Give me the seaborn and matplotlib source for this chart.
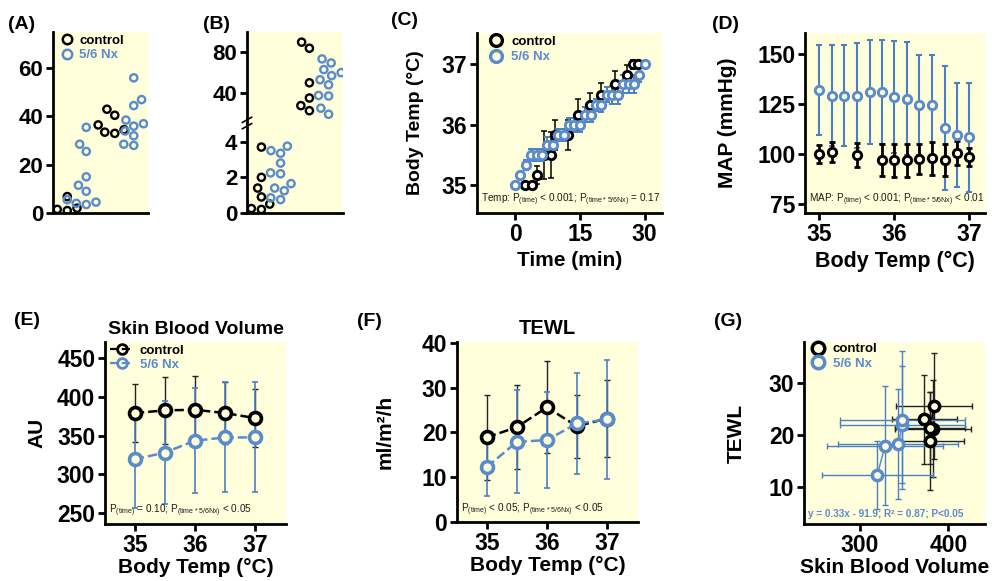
import numpy as np
import pandas as pd
import matplotlib.pyplot as plt
import seaborn as sns
from matplotlib.lines import Line2D

BLACK = "black"
BLUE = "#5A8BCB"
BAR_BLUE = "#4A80C2"
PANEL_BG = "#FFFFDC"
GROUPS = ["control", "5/6 Nx"]

# ---------------- (A) individual values, two phases ----------------
a_ctrl_low = [1.0, 1.5, 2.0, 3.5, 6.8]
a_nx_low = [35.5, 28.5, 25.5, 15.0, 11.5, 9.0, 5.5, 4.5, 3.5, 4.0]
a_ctrl_high = [43.0, 40.5, 36.5, 34.5, 33.5, 33.0]
a_nx_high = [56.0, 47.0, 44.5, 38.5, 37.0, 36.0, 34.0, 32.0, 28.5, 28.0]

# ---------------- (B) individual values, broken axis ----------------
b_ctrl_low = [3.7, 2.0, 1.4, 0.9, 0.6, 0.5, 0.25, 0.2]
b_nx_low = [3.75, 3.5, 3.35, 2.8, 2.25, 2.2, 1.65, 1.4, 1.25, 0.85, 0.75]
b_ctrl_high = [90.0, 84.0, 50.0, 35.0, 27.5, 22.5]
b_nx_high = [73.5, 69.5, 63.0, 60.0, 57.0, 53.0, 48.0, 37.5, 37.0, 25.0, 19.0]

# ---------------- (C) body temp vs time ----------------
c_ctrl_time = [2.3, 3.85, 5.0, 6.7, 8.3, 9.2, 12.3, 14.6, 17.3, 20.0, 23.1, 25.8, 27.3, 28.5]
c_ctrl_temp = [35.0, 35.0, 35.17, 35.5, 35.5, 35.83, 35.83, 36.17, 36.33, 36.5, 36.67, 36.83, 37.0, 37.0]
c_ctrl_sem = [0.05, 0.05, 0.15, 0.4, 0.38, 0.25, 0.25, 0.25, 0.2, 0.2, 0.22, 0.16, 0.08, 0.05]
c_nx_time = [0, 1.25, 2.5, 3.75, 5, 6.25, 7.5, 8.75, 10, 11.25, 12.5, 13.75, 15,
             16.25, 17.5, 18.75, 20, 21.25, 22.5, 23.75, 25, 26.25, 27.5, 28.75, 30]
c_nx_temp = [35.0, 35.17, 35.33, 35.5, 35.5, 35.5, 35.67, 35.67, 35.83, 35.83, 36.0, 36.0, 36.0,
             36.17, 36.17, 36.33, 36.33, 36.5, 36.5, 36.5, 36.67, 36.67, 36.67, 36.83, 37.0]
c_nx_sem = [0.03, 0.05, 0.08, 0.1, 0.1, 0.1, 0.12, 0.12, 0.1, 0.1, 0.12, 0.12, 0.12,
            0.12, 0.12, 0.1, 0.12, 0.12, 0.15, 0.15, 0.15, 0.15, 0.15, 0.12, 0.05]

# ---------------- (D) MAP vs body temp ----------------
d_ctrl_temp = [35.0, 35.17, 35.5, 35.83, 36.0, 36.17, 36.33, 36.5, 36.67, 36.83, 37.0]
d_ctrl_map = [100.2, 100.8, 99.7, 97.2, 96.8, 96.8, 97.5, 97.8, 97.2, 100.3, 98.3]
d_ctrl_sem = [4.5, 5, 6, 8, 8, 8, 7.5, 8, 8, 6, 4.5]
d_nx_temp = [35.0, 35.17, 35.33, 35.5, 35.67, 35.83, 36.0, 36.17, 36.33, 36.5, 36.67, 36.83, 37.0]
d_nx_map = [131.8, 129.2, 129.2, 129.2, 130.8, 130.8, 128.3, 127.7, 124.3, 124.3, 113.0, 109.5, 108.3]
d_nx_sem = [22.5, 25, 25, 26, 26, 26, 28, 28, 25, 25, 31, 26, 27]

# ---------------- (E)/(F)/(G) skin blood volume and TEWL ----------------
temps = [35.0, 35.5, 36.0, 36.5, 37.0]
sbv_ctrl = [379.3, 382.7, 383.5, 379.3, 372.8]
sbv_ctrl_sem = [38, 43, 43, 40, 37]
sbv_nx = [319.6, 328.3, 343.5, 347.8, 347.8]
sbv_nx_sem = [63, 66, 68, 71, 71]
tewl_ctrl = [18.9, 21.2, 25.6, 21.4, 23.1]
tewl_ctrl_sem = [9.5, 9.4, 10.3, 7.0, 8.6]
tewl_nx = [12.3, 17.9, 18.3, 22.0, 22.9]
tewl_nx_sem = [6.6, 11.5, 10.7, 11.3, 13.3]

sns.set_style("ticks")
plt.rcParams["font.family"] = ["Liberation Sans", "DejaVu Sans"]
plt.rcParams.update({
    "font.weight": "bold", "axes.labelweight": "bold", "axes.titleweight": "bold",
    "text.color": "black", "axes.labelcolor": "black", "axes.edgecolor": "black",
    "xtick.color": "black", "ytick.color": "black",
    "mathtext.fontset": "custom", "mathtext.rm": "Liberation Sans",
    "mathtext.default": "regular",
})

W, H = 992, 581
fig = plt.figure(figsize=(W / 100, H / 100), dpi=100)


def rect(l, r, t, b):
    return [l / W, 1 - b / H, (r - l) / W, (b - t) / H]


def style(ax, size=16):
    ax.set_facecolor(PANEL_BG)
    sns.despine(ax=ax)
    for s in ("left", "bottom"):
        ax.spines[s].set_linewidth(2)
    ax.tick_params(direction="out", length=5, width=2, labelsize=size, pad=2)


def hollow(coll, color, lw, fill="none"):
    coll.set_facecolor(fill)
    coll.set_edgecolor(color)
    coll.set_linewidth(lw)


def swarm_df(ctrl_low, nx_low, ctrl_high, nx_high):
    parts = []
    for phase, grp, vals in [("low", "control", ctrl_low), ("low", "5/6 Nx", nx_low),
                             ("high", "control", ctrl_high), ("high", "5/6 Nx", nx_high)]:
        parts.append(pd.DataFrame({"phase": phase, "group": grp, "value": vals}))
    return pd.concat(parts, ignore_index=True)


def swarm(ax, df):
    sns.swarmplot(data=df, x="phase", y="value", hue="group", order=["low", "high"],
                  hue_order=GROUPS, palette=[BLACK, BLUE], dodge=True, size=5.2,
                  linewidth=0, legend=False, ax=ax)
    for coll in ax.collections:
        fc = coll.get_facecolors()
        coll.set_edgecolors(fc)
        coll.set_facecolors("none")
        coll.set_linewidth(1.7)
    ax.set_xlim(-0.5, 1.5)
    ax.set_xlabel("")
    ax.set_ylabel("")
    ax.set_xticks([])


def dot_legend(ax, anchor, ms, mew, hl, htp, ls, dashed=False):
    handles = []
    for c in (BLACK, BLUE):
        handles.append(Line2D([], [], color=c, ls="--" if dashed else "", lw=1.6,
                              marker="o", ms=ms, mfc="none", mec=c, mew=mew))
    leg = ax.legend(handles, GROUPS, loc="upper left", bbox_to_anchor=anchor,
                    frameon=False, borderaxespad=0, borderpad=0, handlelength=hl,
                    handletextpad=htp, labelspacing=ls, prop={"size": 9.5, "weight": "bold"})
    leg.get_texts()[1].set_color(BLUE)
    return leg


def note(ax, text, **kw):
    kw.setdefault("fontweight", "normal")
    kw.setdefault("color", "#1a1a1a")
    ax.text(0.02, 0.025, text, transform=ax.transAxes, fontsize=7.2,
            ha="left", va="bottom", **kw)


# ---------------- (A) ----------------
axA = fig.add_axes(rect(53, 148, 32, 213))
style(axA, 16)
swarm(axA, swarm_df(a_ctrl_low, a_nx_low, a_ctrl_high, a_nx_high))
axA.set_ylim(0, 75)
axA.set_yticks([0, 20, 40, 60])
dot_legend(axA, (0.09, 0.985), 6.8, 1.8, 0.8, 0.55, 0.15)

# ---------------- (B) ----------------
axBt = fig.add_axes(rect(247, 343, 32, 123))
axBb = fig.add_axes(rect(247, 343, 123, 213))
dfB = swarm_df(b_ctrl_low, b_nx_low, b_ctrl_high, b_nx_high)
for ax, phase in ((axBt, "high"), (axBb, "low")):
    style(ax, 16)
    swarm(ax, dfB[dfB["phase"] == phase])
axBt.spines["bottom"].set_visible(False)
axBt.tick_params(axis="x", bottom=False)
axBt.set_ylim(10.4, 100)
axBt.set_yticks([40, 80])
axBb.set_ylim(0, 5.05)
axBb.set_yticks([0, 2, 4])
for dy in (-0.035, 0.035):
    axBb.plot([-0.05, 0.05], [1 + dy - 0.03, 1 + dy + 0.03], transform=axBb.transAxes,
              color=BLACK, lw=1.2, clip_on=False, zorder=5)

# ---------------- (C) ----------------
axC = fig.add_axes(rect(477, 662, 33, 213))
style(axC, 16.5)
axC.errorbar(c_ctrl_time, c_ctrl_temp, yerr=c_ctrl_sem, fmt="none", ecolor=BLACK,
             elinewidth=1.1, capsize=2, capthick=1.1, zorder=2)
axC.errorbar(c_nx_time, c_nx_temp, yerr=c_nx_sem, fmt="none", ecolor=BAR_BLUE,
             elinewidth=1.4, capsize=2, capthick=1.4, zorder=2)
sns.scatterplot(x=c_ctrl_time, y=c_ctrl_temp, ax=axC, s=36, zorder=3)
hollow(axC.collections[-1], BLACK, 2.1, "white")
sns.scatterplot(x=c_nx_time, y=c_nx_temp, ax=axC, s=36, zorder=4)
hollow(axC.collections[-1], BLUE, 2.1, "white")
axC.set_xlim(-8.8, 34)
axC.set_ylim(34.54, 37.52)
axC.set_xticks([0, 15, 30])
axC.set_yticks([35, 36, 37])
axC.set_xlabel("Time (min)", fontsize=15)
axC.set_ylabel("Body Temp (°C)", fontsize=14)
axC.yaxis.set_label_coords(-0.286, 0.5)
dot_legend(axC, (0.067, 0.985), 8.5, 2.4, 1.0, 0.65, 0.25)
note(axC, r"Temp: P$_{(time)}$ < 0.001; P$_{(time*5/6Nx)}$ = 0.17")

# ---------------- (D) ----------------
axD = fig.add_axes(rect(805, 985, 33, 213))
style(axD, 16.5)
axD.errorbar(d_nx_temp, d_nx_map, yerr=d_nx_sem, fmt="none", ecolor=BAR_BLUE,
             elinewidth=1.5, capsize=2.5, capthick=1.5, zorder=2)
axD.errorbar(d_ctrl_temp, d_ctrl_map, yerr=d_ctrl_sem, fmt="none", ecolor=BLACK,
             elinewidth=2, capsize=2, capthick=2, zorder=2)
sns.scatterplot(x=d_ctrl_temp, y=d_ctrl_map, ax=axD, s=36, zorder=3)
hollow(axD.collections[-1], BLACK, 2.1, PANEL_BG)
sns.scatterplot(x=d_nx_temp, y=d_nx_map, ax=axD, s=36, zorder=4)
hollow(axD.collections[-1], BLUE, 2.1, PANEL_BG)
axD.set_xlim(34.81, 37.21)
axD.set_ylim(70.6, 160.4)
axD.set_xticks([35, 36, 37])
axD.set_yticks([75, 100, 125, 150])
axD.set_xlabel("Body Temp (°C)", fontsize=15.5)
axD.set_ylabel("MAP (mmHg)", fontsize=15)
axD.yaxis.set_label_coords(-0.378, 0.5)
note(axD, r"MAP: P$_{(time)}$ < 0.001; P$_{(time*5/6Nx)}$ < 0.01")

# ---------------- (E) / (F) ----------------
def temp_panel(ax, ctrl, ctrl_sem, nx, nx_sem):
    ax.errorbar(temps, ctrl, yerr=ctrl_sem, fmt="none", ecolor="#222222",
                elinewidth=1.0, capsize=2, capthick=1.0, zorder=2)
    ax.errorbar(temps, nx, yerr=nx_sem, fmt="none", ecolor=BAR_BLUE,
                elinewidth=1.2, capsize=2, capthick=1.2, zorder=2)
    for vals, c, z in ((ctrl, BLACK, 3), (nx, BLUE, 4)):
        sns.lineplot(x=temps, y=vals, ax=ax, color=c, linestyle="--", lw=1.8,
                     marker="o", markersize=8.6, markerfacecolor=PANEL_BG,
                     markeredgecolor=c, markeredgewidth=2.6, zorder=z)
    ax.set_xlim(34.5, 37.52)
    ax.set_xticks([35, 36, 37])
    ax.set_xlabel("Body Temp (°C)", fontsize=15, labelpad=1)


axE = fig.add_axes(rect(105, 286, 342, 524))
style(axE, 16.5)
temp_panel(axE, sbv_ctrl, sbv_ctrl_sem, sbv_nx, sbv_nx_sem)
axE.set_ylim(236, 471)
axE.set_yticks([250, 300, 350, 400, 450])
axE.set_title("Skin Blood Volume", fontsize=14, pad=6)
axE.set_ylabel("AU", fontsize=15)
axE.yaxis.set_label_coords(-0.326, 0.5)
dot_legend(axE, (0.028, 0.985), 7, 2.0, 1.75, 0.5, 0.1, dashed=True)
note(axE, r"P$_{(time)}$ = 0.10; P$_{(time*5/6Nx)}$ < 0.05")

axF = fig.add_axes(rect(457, 638, 342, 522))
style(axF, 16.5)
temp_panel(axF, tewl_ctrl, tewl_ctrl_sem, tewl_nx, tewl_nx_sem)
axF.set_ylim(0, 40.2)
axF.set_yticks([0, 10, 20, 30, 40])
axF.set_title("TEWL", fontsize=14.5, pad=6)
axF.set_ylabel("ml/m²/h", fontsize=15)
axF.yaxis.set_label_coords(-0.346, 0.5)
note(axF, r"P$_{(time)}$ < 0.05; P$_{(time*5/6Nx)}$ < 0.05")

# ---------------- (G) ----------------
axG = fig.add_axes(rect(804, 985, 342, 524))
style(axG, 16.5)
for sx, sy, c in ((sbv_ctrl, tewl_ctrl, BLACK), (sbv_nx, tewl_nx, BLUE)):
    sns.lineplot(x=sx, y=sy, ax=axG, sort=False, estimator=None, color=c, lw=1.1, zorder=2)
axG.errorbar(sbv_ctrl, tewl_ctrl, xerr=sbv_ctrl_sem, yerr=tewl_ctrl_sem, fmt="none",
             ecolor="#222222", elinewidth=1.0, capsize=2, capthick=1.0, zorder=2)
axG.errorbar(sbv_nx, tewl_nx, xerr=sbv_nx_sem, yerr=tewl_nx_sem, fmt="none",
             ecolor=BAR_BLUE, elinewidth=1.0, capsize=2, capthick=1.0, zorder=2)
sns.scatterplot(x=sbv_ctrl, y=tewl_ctrl, ax=axG, s=55, zorder=3)
hollow(axG.collections[-1], BLACK, 2.5, PANEL_BG)
sns.scatterplot(x=sbv_nx, y=tewl_nx, ax=axG, s=55, zorder=4)
hollow(axG.collections[-1], BLUE, 2.5, PANEL_BG)
axG.set_xlim(236.6, 441.5)
axG.set_ylim(2.8, 38)
axG.set_xticks([300, 400])
axG.set_yticks([10, 20, 30])
axG.set_xlabel("Skin Blood Volume", fontsize=15, labelpad=1)
axG.set_ylabel("TEWL", fontsize=15)
axG.yaxis.set_label_coords(-0.32, 0.5)
dot_legend(axG, (0.041, 0.995), 9, 2.5, 1.0, 0.6, 0.2)
note(axG, "y = 0.33x - 91.9; R² = 0.87; P<0.05", color=BLUE, fontweight="bold")

# ---------------- panel letters ----------------
for letter, x, y in (("A", 8, 16), ("B", 203, 16), ("C", 391, 12), ("D", 712, 16),
                     ("E", 14, 312), ("F", 357, 313), ("G", 714, 313)):
    fig.text(x / W, 1 - y / H, f"({letter})", fontsize=14, fontweight="bold",
             ha="left", va="top")

fig.savefig("out.png", dpi=100)
